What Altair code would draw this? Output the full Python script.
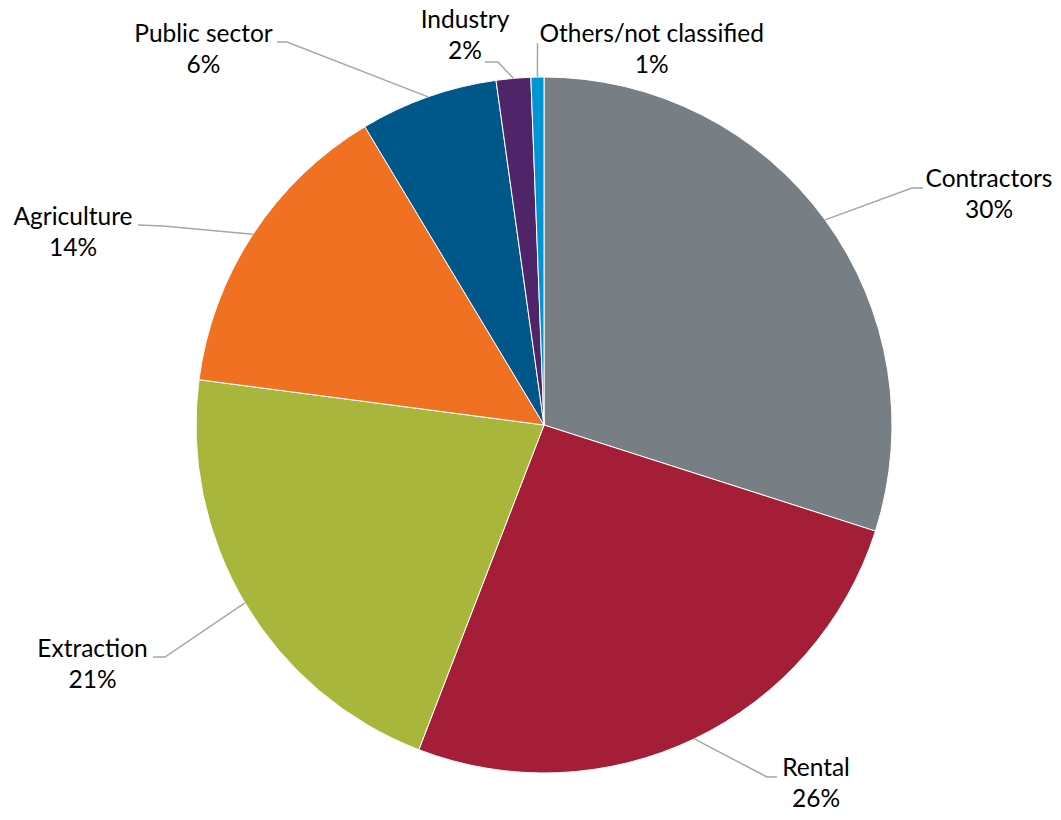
import altair as alt
import pandas as pd
import numpy as np

# ---------------- data ----------------
categories = ["Contractors", "Rental", "Extraction", "Agriculture",
              "Public sector", "Industry", "Others/not classified"]
shares = [29.9, 25.9, 21.2, 14.3, 6.4, 1.6, 0.6]

# ---------------- style / layout ----------------
colors = ["#787F84", "#A51E37", "#A8B73B", "#F07122", "#00578A", "#4F2468", "#0096D6"]
CX, CY, R = 544, 425, 348            # pie centre and radius (page pixels)
# label block anchor: centre x, first-line baseline y
label_anchor = [(989, 187), (816, 776), (92.5, 657), (73, 225),
                (203.5, 41.7), (465, 28), (651.7, 41.7)]
# leader-line elbow and end points
leader_elbow = [(912, 188), (767, 777), (165, 657), (163, 226),
                (287, 42), (498, 62), (537.5, 43)]
leader_end = [(923, 188), (777, 777), (153, 657), (138, 225),
              (277, 42), (485, 62), (537.5, 43)]

W, H = 1045, 804
xs = alt.Scale(domain=[8, 8 + W], nice=False, zero=False)
ys = alt.Scale(domain=[8, 8 + H], nice=False, zero=False, reverse=True)

pie_df = pd.DataFrame({"category": categories, "share": shares,
                       "order": list(range(len(categories)))})

# leader lines start at the outer edge, at the middle angle of each slice
total = float(sum(shares))
cum = np.cumsum([0.0] + shares)
rows = []
for i, c in enumerate(categories):
    mid = (cum[i] + cum[i + 1]) / 2 / total * 2 * np.pi
    sx, sy = CX + R * np.sin(mid), CY - R * np.cos(mid)
    pts = [(sx, sy), leader_elbow[i], leader_end[i]]
    for k, (px, py) in enumerate(pts):
        rows.append({"category": c, "step": k, "px": px, "py": py})
lead_df = pd.DataFrame(rows)

lab_df = pd.DataFrame({"category": categories, "share": shares,
                       "lx": [a[0] for a in label_anchor],
                       "ly": [a[1] for a in label_anchor]})

arcs = alt.Chart(pie_df).mark_arc(radius=R, stroke="white", strokeWidth=1).encode(
    theta=alt.Theta("share:Q", stack=True),
    color=alt.Color("category:N", scale=alt.Scale(domain=categories, range=colors), legend=None),
    order=alt.Order("order:Q"),
    x=alt.XDatum(CX, type="quantitative", scale=xs, axis=None),
    y=alt.YDatum(CY, type="quantitative", scale=ys, axis=None),
)

leaders = alt.Chart(lead_df).mark_line(color="#A6A6A6", strokeWidth=1.5).encode(
    x=alt.X("px:Q", scale=xs, axis=None),
    y=alt.Y("py:Q", scale=ys, axis=None),
    detail="category:N",
    order="step:Q",
)

labels = alt.Chart(lab_df).transform_joinaggregate(
    total="sum(share)"
).transform_calculate(
    txt="datum.category + '\\n' + format(datum.share / datum.total, '.0%')"
).mark_text(font="Lato", fontSize=24.5, align="center", baseline="alphabetic",
            lineHeight=31, lineBreak="\n", color="#000000").encode(
    x=alt.X("lx:Q", scale=xs, axis=None),
    y=alt.Y("ly:Q", scale=ys, axis=None),
    text="txt:N",
)

chart = alt.layer(arcs, leaders, labels).properties(
    width=W, height=H, padding=0, autosize=alt.AutoSizeParams(type="none"),
    background="white",
).configure_view(stroke=None)

chart.save("out.html", embed_options={"renderer": "svg", "actions": False})
